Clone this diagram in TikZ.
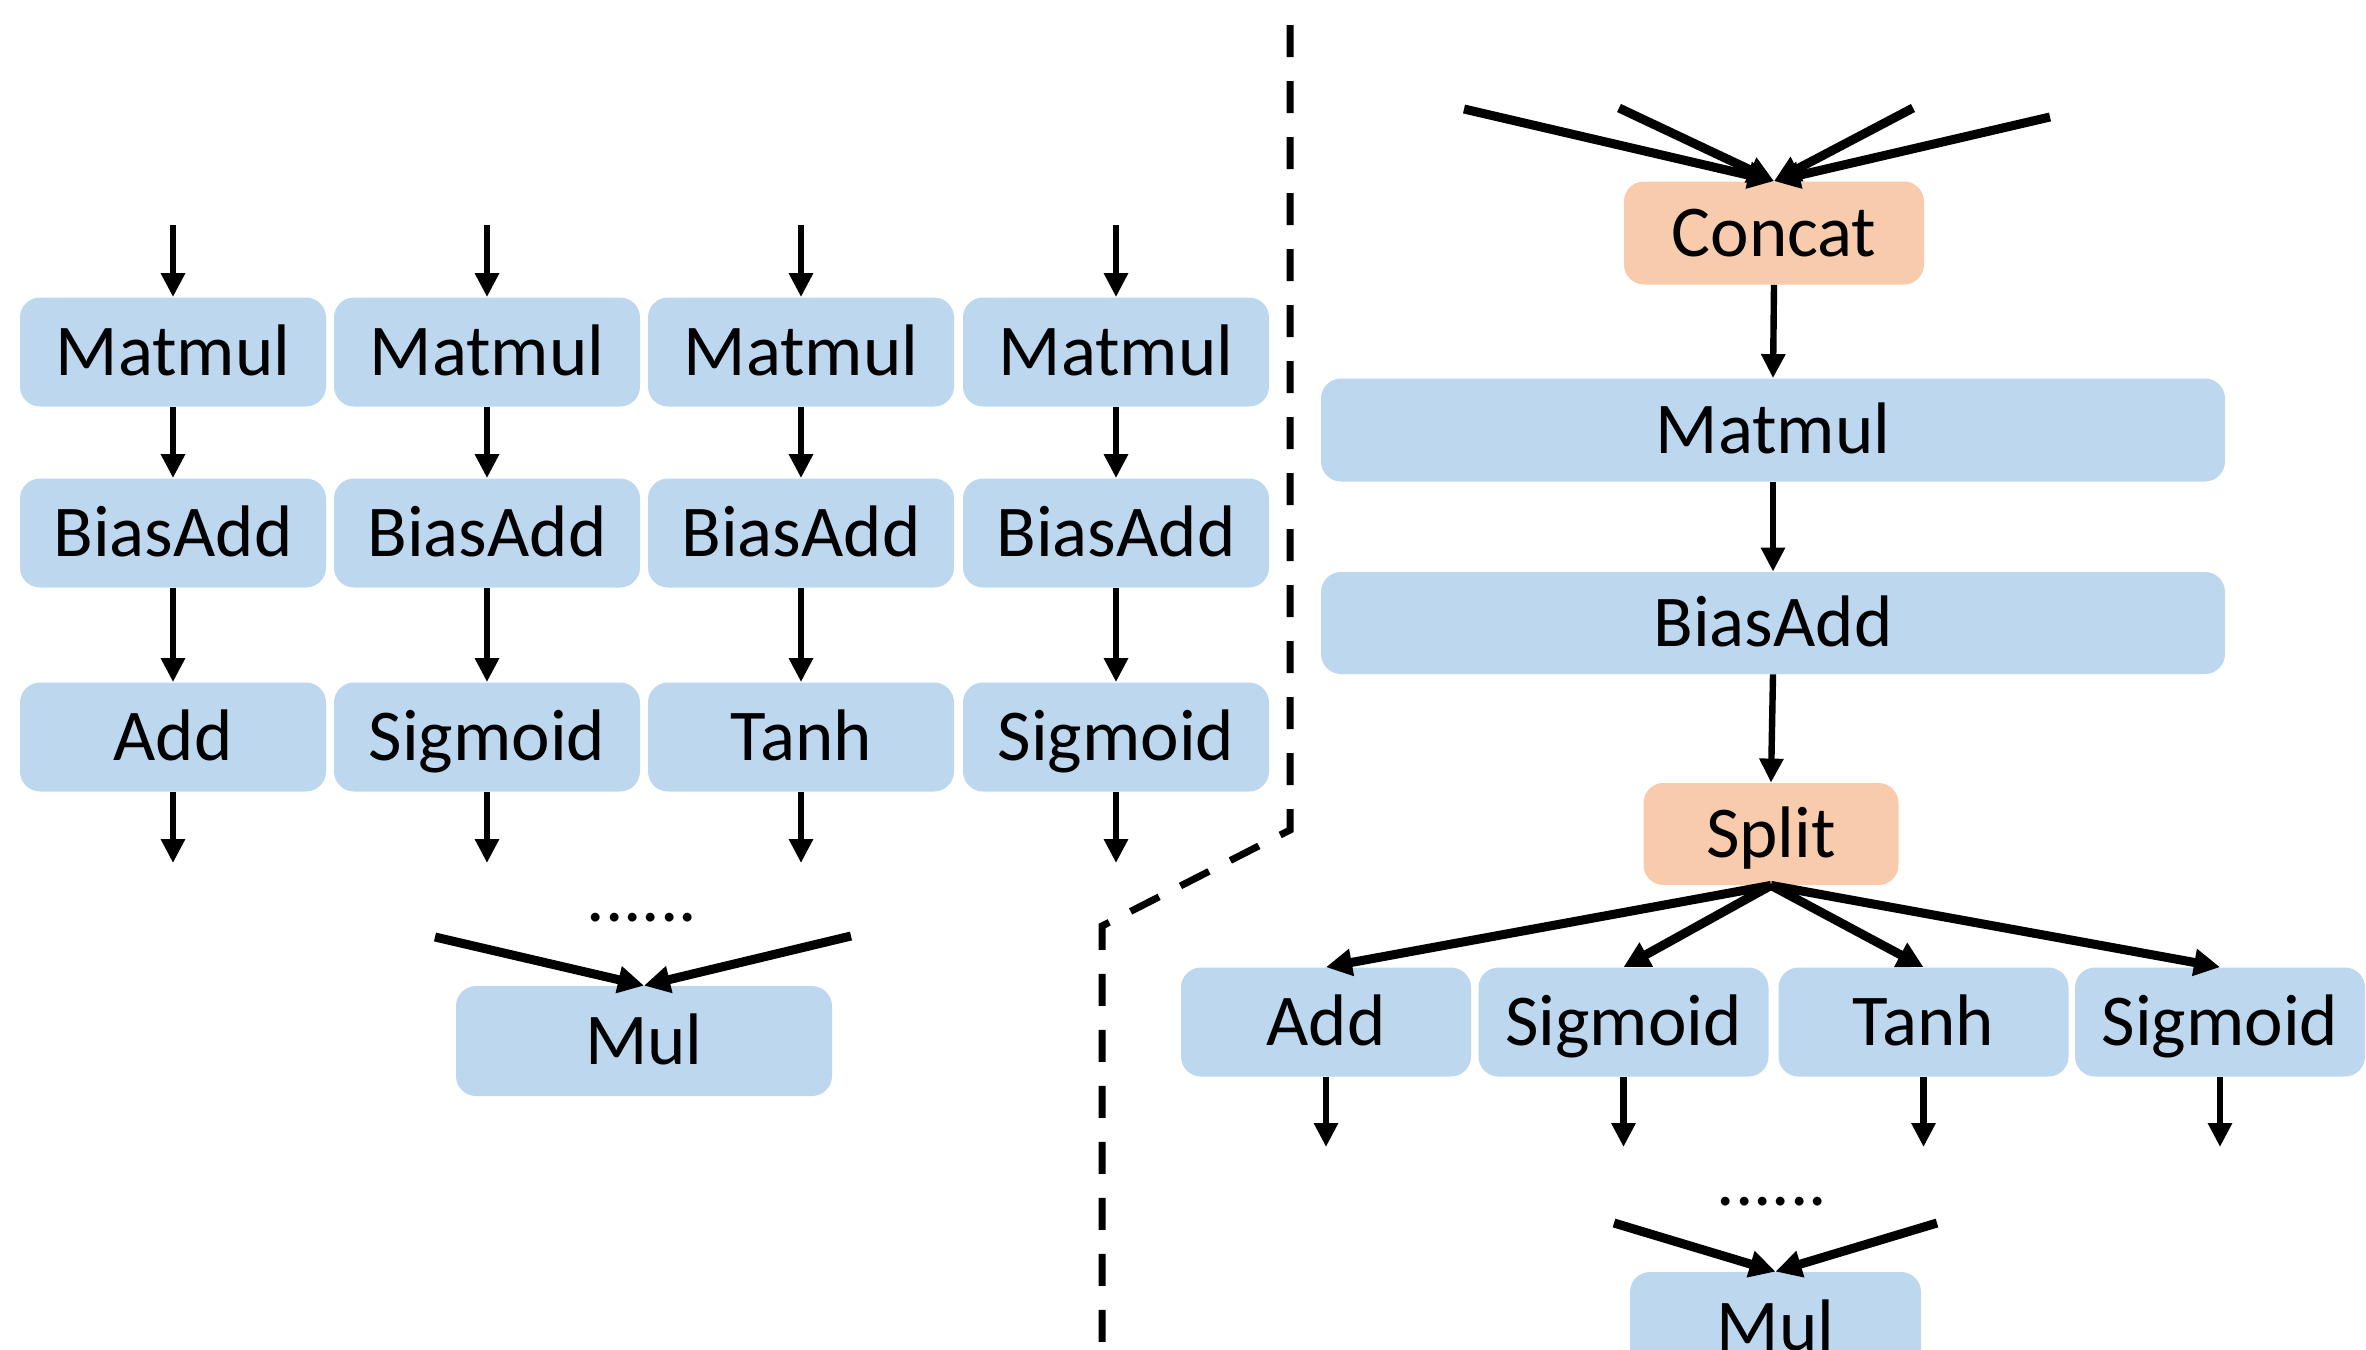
\documentclass[tikz,border=0pt]{standalone}
\usepackage{fontspec}
\setmainfont{Carlito}
\usetikzlibrary{arrows.meta}
\definecolor{boxblue}{HTML}{BDD7EE}
\definecolor{boxorange}{HTML}{F8CBAD}
\tikzset{
  opbox/.style={rectangle, rounded corners=10pt, fill=boxblue, inner sep=0pt,
    text height=23.5pt, text depth=0pt, font=\fontsize{36.5}{40}\selectfont},
  orbox/.style={opbox, fill=boxorange},
  smallbox/.style={minimum width=153pt, minimum height=54.5pt},
  rowbox/.style={minimum width=145pt, minimum height=54.5pt},
  wide/.style={minimum width=452pt, minimum height=51.5pt},
  dotsnode/.style={inner sep=0pt, anchor=base, font=\fontsize{36.5}{40}\selectfont},
  thin/.style={line width=3.2pt, -{Triangle[length=12pt,width=11.5pt]}},
  thick/.style={line width=4.5pt, -{Triangle[length=13pt,width=13pt]}},
  divider/.style={line width=3.5pt, dash pattern=on 16pt off 12pt}
}
\begin{document}
\begin{tikzpicture}[x=0.5pt,y=-0.5pt]
\useasboundingbox (0,0) rectangle (2366,1349);
\clip (0,0) rectangle (2366,1349);

% ---------------- left part ----------------
\foreach \i/\x/\last in {1/173/Add, 2/487/Sigmoid, 3/801/Tanh, 4/1116/Sigmoid}{
  \node[opbox, smallbox] (mm\i) at (\x,352) {Matmul};
  \node[opbox, smallbox] (ba\i) at (\x,533) {BiasAdd};
  \node[opbox, smallbox] (ac\i) at (\x,737) {\last};
  \coordinate (in\i) at (\x,225);
  \coordinate (out\i) at (\x,863);
  \draw[thin] (in\i) -- (mm\i.north);
  \draw[thin] (mm\i.south) -- (ba\i.north);
  \draw[thin] (ba\i.south) -- (ac\i.north);
  \draw[thin] (ac\i.south) -- (out\i);
}
\node[dotsnode] (ldots) at (642,921) {......};
\node[opbox, minimum width=188pt, minimum height=55pt] (lmul) at (644,1041) {Mul};
\coordinate (lm1) at (435,937);
\coordinate (lm2) at (851,936);
\draw[thick] (lm1) -- (lmul.north);
\draw[thick] (lm2) -- (lmul.north);

% ---------------- divider ----------------
\coordinate (d1) at (1290,25);
\coordinate (d2) at (1290,830);
\coordinate (d3) at (1102,926);
\coordinate (d4) at (1102,1360);
\draw[divider] (d1) -- (d2) -- (d3) -- (d4);

% ---------------- right part ----------------
\node[orbox, minimum width=150pt, minimum height=51.5pt] (concat) at (1774,233) {Concat};
\node[opbox, wide] (rmm) at (1773,430) {Matmul};
\node[opbox, wide, minimum height=51pt] (rba) at (1773,623) {BiasAdd};
\node[orbox, minimum width=127.5pt, minimum height=51pt] (split) at (1771,834) {Split};

\coordinate (c1) at (1464,109);
\coordinate (c2) at (1619,108);
\coordinate (c3) at (1913,108);
\coordinate (c4) at (2050,117);
\foreach \c in {c1,c2,c3,c4}{\draw[thick] (\c) -- (concat.north);}

\draw[thin] (concat.south) -- (rmm.north);
\draw[thin] (rmm.south) -- (rba.north);
\draw[thin] (rba.south) -- (split.north);

\foreach \i/\x/\t in {1/1326/Add, 2/1623.5/Sigmoid, 3/1923.5/Tanh, 4/2220/Sigmoid}{
  \node[opbox, rowbox] (r\i) at (\x,1022) {\t};
  \draw[thick] (split.south) -- (r\i.north);
  \coordinate (rout\i) at (\x,1147);
  \draw[thin] (r\i.south) -- (rout\i);
}

\node[dotsnode] (rdots) at (1772,1205) {......};
\node[opbox, minimum width=145.5pt, minimum height=55pt] (rmul) at (1775.5,1327) {Mul};
\coordinate (rm1) at (1614,1223);
\coordinate (rm2) at (1937,1223);
\draw[thick] (rm1) -- (rmul.north);
\draw[thick] (rm2) -- (rmul.north);
\end{tikzpicture}
\end{document}
